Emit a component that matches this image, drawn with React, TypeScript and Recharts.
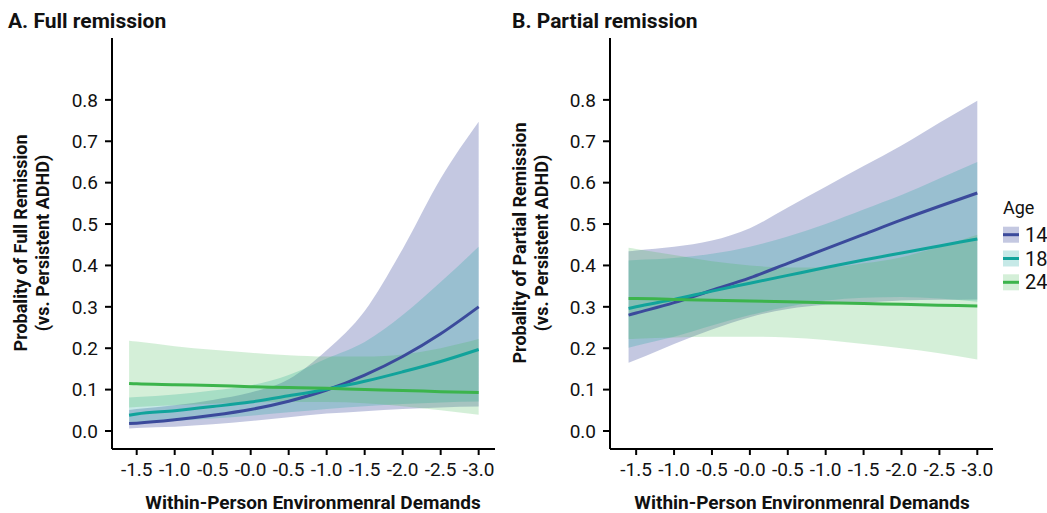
import React from 'react';
import { ComposedChart, Area, Line, XAxis, YAxis } from 'recharts';

const xValues = [-1.6, -1.5, -1.0, -0.5, 0, 0.5, 1.0, 1.5, 2.0, 2.5, 3.0];
const xTicks = [-1.5, -1.0, -0.5, 0, 0.5, 1.0, 1.5, 2.0, 2.5, 3.0];
const xTickLabels = ['-1.5', '-1.0', '-0.5', '-0.0', '-0.5', '-1.0', '-1.5', '-2.0', '-2.5', '-3.0'];
const yTicks = [0, 0.1, 0.2, 0.3, 0.4, 0.5, 0.6, 0.7, 0.8];
const ages = ['14', '18', '24'];

// A. Full remission
const fullFit14 = [0.018, 0.019, 0.027, 0.038, 0.052, 0.072, 0.099, 0.135, 0.18, 0.235, 0.3];
const fullLow14 = [0.006, 0.007, 0.01, 0.016, 0.024, 0.033, 0.042, 0.048, 0.053, 0.057, 0.059];
const fullHigh14 = [0.051, 0.053, 0.062, 0.075, 0.093, 0.125, 0.195, 0.29, 0.44, 0.61, 0.747];
const fullFit18 = [0.038, 0.041, 0.049, 0.059, 0.07, 0.085, 0.101, 0.12, 0.143, 0.168, 0.197];
const fullLow18 = [0.018, 0.02, 0.024, 0.03, 0.037, 0.045, 0.053, 0.06, 0.065, 0.069, 0.071];
const fullHigh18 = [0.081, 0.082, 0.088, 0.098, 0.11, 0.135, 0.175, 0.215, 0.28, 0.36, 0.445];
const fullFit24 = [0.115, 0.114, 0.112, 0.11, 0.107, 0.105, 0.103, 0.1, 0.098, 0.095, 0.093];
const fullLow24 = [0.057, 0.058, 0.062, 0.066, 0.069, 0.07, 0.07, 0.067, 0.06, 0.05, 0.039];
const fullHigh24 = [0.218, 0.216, 0.205, 0.196, 0.189, 0.183, 0.18, 0.18, 0.185, 0.2, 0.222];

// B. Partial remission
const partFit14 = [0.28, 0.285, 0.31, 0.34, 0.37, 0.405, 0.44, 0.475, 0.51, 0.543, 0.575];
const partLow14 = [0.165, 0.172, 0.21, 0.245, 0.275, 0.295, 0.305, 0.31, 0.315, 0.317, 0.318];
const partHigh14 = [0.434, 0.436, 0.445, 0.46, 0.49, 0.54, 0.59, 0.64, 0.69, 0.745, 0.798];
const partFit18 = [0.296, 0.3, 0.318, 0.338, 0.357, 0.376, 0.395, 0.413, 0.43, 0.447, 0.464];
const partLow18 = [0.201, 0.206, 0.228, 0.255, 0.28, 0.3, 0.315, 0.322, 0.324, 0.32, 0.312];
const partHigh18 = [0.412, 0.413, 0.418, 0.428, 0.445, 0.47, 0.5, 0.535, 0.57, 0.61, 0.65];
const partFit24 = [0.32, 0.32, 0.318, 0.316, 0.314, 0.312, 0.31, 0.308, 0.306, 0.304, 0.302];
const partLow24 = [0.222, 0.223, 0.226, 0.228, 0.228, 0.226, 0.22, 0.21, 0.2, 0.188, 0.173];
const partHigh24 = [0.443, 0.44, 0.425, 0.41, 0.4, 0.395, 0.395, 0.405, 0.42, 0.445, 0.474];

const colors: Record<string, string> = { '14': '#3b4a9b', '18': '#11a39b', '24': '#3cb44c' };
const bandOpacity: Record<string, number> = { '14': 0.3, '18': 0.24, '24': 0.22 };

const font = 'Roboto, "Noto Sans", sans-serif';

const buildRows = (fits: number[][], lows: number[][], highs: number[][]) =>
  xValues.map((x, i) => {
    const row: any = { x };
    ages.forEach((a, k) => {
      row['fit' + a] = fits[k][i];
      row['band' + a] = [lows[k][i], highs[k][i]];
    });
    return row;
  });

const fullRows = buildRows(
  [fullFit14, fullFit18, fullFit24],
  [fullLow14, fullLow18, fullLow24],
  [fullHigh14, fullHigh18, fullHigh24]
);
const partRows = buildRows(
  [partFit14, partFit18, partFit24],
  [partLow14, partLow18, partLow24],
  [partHigh14, partHigh18, partHigh24]
);

const Panel = ({ data, left, marginLeft, marginRight, xDomain }: any) => (
  <div style={{ position: 'absolute', left, top: 0 }}>
    <ComposedChart
      width={500}
      height={513}
      data={data}
      margin={{ top: 38, right: marginRight, bottom: 34, left: marginLeft }}
    >
      <XAxis
        type="number"
        dataKey="x"
        domain={xDomain}
        allowDataOverflow
        ticks={xTicks}
        tickFormatter={(v: number, i: number) => xTickLabels[i]}
        height={30}
        axisLine={{ stroke: '#000', strokeWidth: 2 }}
        tickLine={{ stroke: '#000', strokeWidth: 2 }}
        tickSize={6}
        tickMargin={8}
        tick={{ fill: '#111', fontSize: 19, fontFamily: font }}
        interval={0}
      />
      <YAxis
        type="number"
        domain={[-0.0435, 0.9495]}
        allowDataOverflow
        ticks={yTicks}
        tickFormatter={(v: number) => v.toFixed(1)}
        width={60}
        axisLine={{ stroke: '#000', strokeWidth: 2 }}
        tickLine={{ stroke: '#000', strokeWidth: 2 }}
        tickSize={7}
        tickMargin={7}
        tick={{ fill: '#111', fontSize: 19, fontFamily: font }}
        interval={0}
      />
      {ages.map((a) => (
        <Area
          key={'band' + a}
          type="monotone"
          dataKey={'band' + a}
          stroke="none"
          fill={colors[a]}
          fillOpacity={bandOpacity[a]}
          isAnimationActive={false}
        />
      ))}
      {ages.map((a) => (
        <Line
          key={'fit' + a}
          type="monotone"
          dataKey={'fit' + a}
          stroke={colors[a]}
          strokeWidth={3}
          dot={false}
          isAnimationActive={false}
        />
      ))}
    </ComposedChart>
  </div>
);

const Labels = () => (
  <svg
    width={1047}
    height={513}
    style={{ position: 'absolute', left: 0, top: 0, pointerEvents: 'none' }}
    fontFamily={font}
  >
    <text x={8} y={28} fontSize={21} fontWeight={700} fill="#111">A. Full remission</text>
    <text x={512} y={28} fontSize={21} fontWeight={700} fill="#111">B. Partial remission</text>

    <g transform="translate(21,243) rotate(-90)">
      <text textAnchor="middle" dy="0.35em" fontSize={18} fontWeight={700} fill="#111">
        Probality of Full Remission
      </text>
    </g>
    <g transform="translate(43,243) rotate(-90)">
      <text textAnchor="middle" dy="0.35em" fontSize={18} fontWeight={700} fill="#111">
        (vs. Persistent ADHD)
      </text>
    </g>
    <g transform="translate(520,243) rotate(-90)">
      <text textAnchor="middle" dy="0.35em" fontSize={18} fontWeight={700} fill="#111">
        Probality of Partial Remission
      </text>
    </g>
    <g transform="translate(542,243) rotate(-90)">
      <text textAnchor="middle" dy="0.35em" fontSize={18} fontWeight={700} fill="#111">
        (vs. Persistent ADHD)
      </text>
    </g>

    <text x={313} y={509} textAnchor="middle" fontSize={19} fontWeight={700} fill="#111">
      Within-Person Environmenral Demands
    </text>
    <text x={802} y={509} textAnchor="middle" fontSize={19} fontWeight={700} fill="#111">
      Within-Person Environmenral Demands
    </text>

    <text x={1003} y={214} fontSize={18} fill="#111">Age</text>
    {ages.map((a, k) => {
      const y = 226.7 + k * 23.8;
      return (
        <g key={a}>
          <rect x={1003} y={y} width={16} height={16} fill={colors[a]} fillOpacity={bandOpacity[a]} />
          <line x1={1003} x2={1019} y1={y + 8} y2={y + 8} stroke={colors[a]} strokeWidth={3} />
          <text x={1025} y={y + 15} fontSize={20} fill="#111">{a}</text>
        </g>
      );
    })}
  </svg>
);

export default function App() {
  return (
    <div style={{ position: 'absolute', left: 0, top: 0, width: 1047, height: 513, background: '#fff' }}>
      <Panel data={fullRows} left={0} marginLeft={52} marginRight={5} xDomain={[-1.825, 3.215]} />
      <Panel data={partRows} left={500} marginLeft={50} marginRight={7} xDomain={[-1.845, 3.207]} />
      <Labels />
    </div>
  );
}
